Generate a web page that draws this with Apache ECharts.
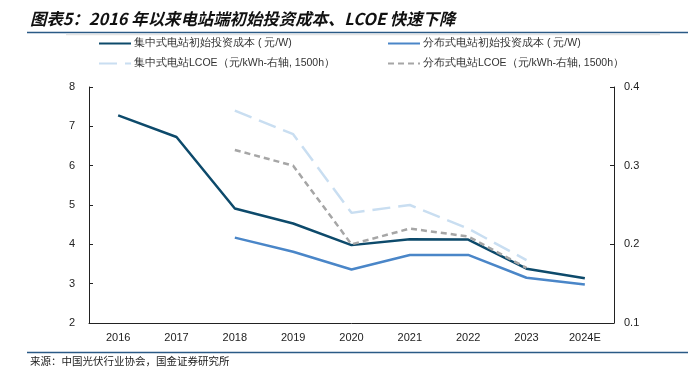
<!DOCTYPE html>
<html><head><meta charset="utf-8">
<script src="https://cdn.jsdelivr.net/npm/echarts@6/dist/echarts.min.js"></script>
<style>html,body{margin:0;padding:0;background:#fff}#c{width:694px;height:370px}</style>
</head><body><div id="c"></div>
<script>
const categories = ['2016','2017','2018','2019','2020','2021','2022','2023','2024E'];
const centralCost = [7.28, 6.73, 4.91, 4.53, 3.98, 4.13, 4.12, 3.38, 3.14];
const distCost = [null, null, 4.17, 3.81, 3.36, 3.73, 3.73, 3.15, 2.98];
const centralLcoe = [null, null, 0.37, 0.34, 0.24, 0.25, 0.22, 0.18, null];
const distLcoe = [null, null, 0.32, 0.30, 0.20, 0.22, 0.21, 0.17, null];
const names = ['集中式电站初始投资成本 ( 元/W)','分布式电站初始投资成本 ( 元/W)','集中式电站LCOE（元/kWh-右轴, 1500h）','分布式电站LCOE（元/kWh-右轴, 1500h）'];
const colors = ['#0D4A6B','#4A86C8','#C9DEF1','#A6A6A6'];
const font = '"Liberation Sans", Arial, sans-serif';
const chart = echarts.init(document.getElementById('c'));
function lg(name, left, top){
  return {data:[name], left:left, top:top, itemWidth:32, itemHeight:10, itemGap:0, padding:0,
    itemStyle:{opacity:0},
    textStyle:{fontSize:10.5, color:'#333', fontFamily:font, padding:[0,0,0,-2]}};
}
chart.setOption({
  animation:false,
  title:{text:'图表5：2016 年以来电站端初始投资成本、LCOE 快速下降', left:30, top:11, padding:0,
    textStyle:{fontSize:16.4, fontStyle:'italic', fontWeight:'bold', color:'#111', fontFamily:'"Noto Sans CJK SC", sans-serif'}},
  graphic:[
    {type:'line', shape:{x1:27,y1:32.5,x2:688,y2:32.5}, style:{stroke:'#2A5A86', lineWidth:1.5}},
    {type:'line', shape:{x1:66,y1:34.5,x2:660,y2:34.5}, style:{stroke:'#E4E4E4', lineWidth:1.5}},
    {type:'line', shape:{x1:27,y1:352.5,x2:688,y2:352.5}, style:{stroke:'#2A5A86', lineWidth:1.5}},
    {type:'text', left:30, top:356, style:{text:'来源：中国光伏行业协会，国金证券研究所', fontSize:10.5, fill:'#222', fontFamily:'"Noto Sans CJK SC", serif'}}
  ],
  legend:[
    lg(names[0], 98, 38),
    lg(names[1], 387, 38),
    lg(names[2], 98, 58),
    lg(names[3], 387, 58)
  ],
  grid:{left:89, right:80, top:87, bottom:47},
  xAxis:{type:'category', data:categories, boundaryGap:true,
    axisLine:{lineStyle:{color:'#222', width:1}},
    axisTick:{inside:true, length:5, lineStyle:{color:'#222'}},
    axisLabel:{color:'#222', fontSize:11, fontFamily:font, margin:9}},
  yAxis:[
    {type:'value', min:2, max:8, interval:1, position:'left',
      axisLine:{show:true, lineStyle:{color:'#222'}}, axisTick:{show:true, inside:true, length:4, lineStyle:{color:'#222'}},
      splitLine:{show:false}, axisLabel:{color:'#222', fontSize:11, fontFamily:font, margin:14}},
    {type:'value', min:0.1, max:0.4, interval:0.1, position:'right',
      axisLine:{show:true, lineStyle:{color:'#222'}}, axisTick:{show:true, inside:true, length:4, lineStyle:{color:'#222'}},
      splitLine:{show:false}, axisLabel:{color:'#222', fontSize:11, fontFamily:font, margin:10, formatter:v=>v.toFixed(1)}}
  ],
  series:[
    {name:names[0], type:'line', data:centralCost, yAxisIndex:0, symbol:'none', color:colors[0], lineStyle:{width:2.5, color:colors[0]}},
    {name:names[1], type:'line', data:distCost, yAxisIndex:0, symbol:'none', color:colors[1], lineStyle:{width:2.5, color:colors[1]}},
    {name:names[2], type:'line', data:centralLcoe, yAxisIndex:1, symbol:'none', color:colors[2], lineStyle:{width:2.5, color:colors[2], type:[18,8]}},
    {name:names[3], type:'line', data:distLcoe, yAxisIndex:1, symbol:'none', color:colors[3], lineStyle:{width:2.5, color:colors[3], type:[6,4]}}
  ]
});
</script></body></html>
